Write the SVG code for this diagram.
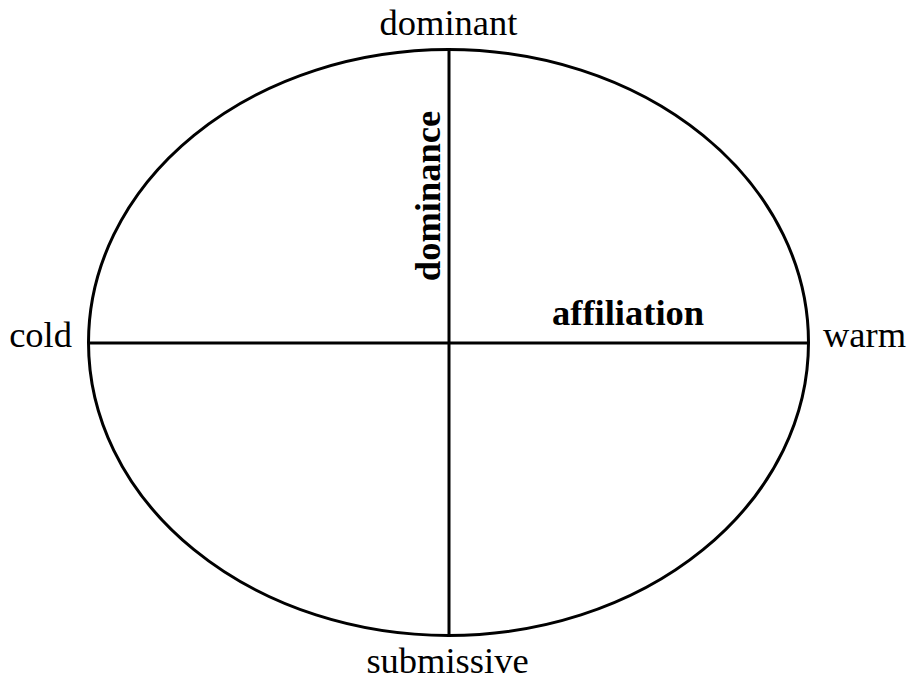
<svg xmlns="http://www.w3.org/2000/svg" width="915" height="687" viewBox="0 0 915 687">
<style>
.ln{stroke:#000;stroke-width:3;fill:none}
.lab{font-family:"Liberation Serif","Times New Roman",serif;font-size:36.5px;fill:#000}
.ax{font-family:"Liberation Serif","Times New Roman",serif;font-size:36.5px;font-weight:bold;fill:#000}
</style>
<rect width="915" height="687" fill="#fff"/>
<g id="circle"><ellipse class="ln" cx="448.5" cy="342.5" rx="360" ry="293"/></g>
<g id="axes">
<line class="ln" x1="449" y1="49.5" x2="449" y2="635.5"/>
<line class="ln" x1="88.5" y1="343" x2="808.5" y2="343"/>
</g>
<g id="labels">
<text class="lab" x="448.5" y="35" text-anchor="middle">dominant</text>
<text class="lab" x="447.5" y="673" text-anchor="middle">submissive</text>
<text class="lab" x="72" y="347" text-anchor="end">cold</text>
<text class="lab" x="823" y="347">warm</text>
<text class="ax" x="552" y="325">affiliation</text>
<text class="ax" transform="translate(440,196) rotate(-90)" text-anchor="middle">dominance</text>
</g>
</svg>
